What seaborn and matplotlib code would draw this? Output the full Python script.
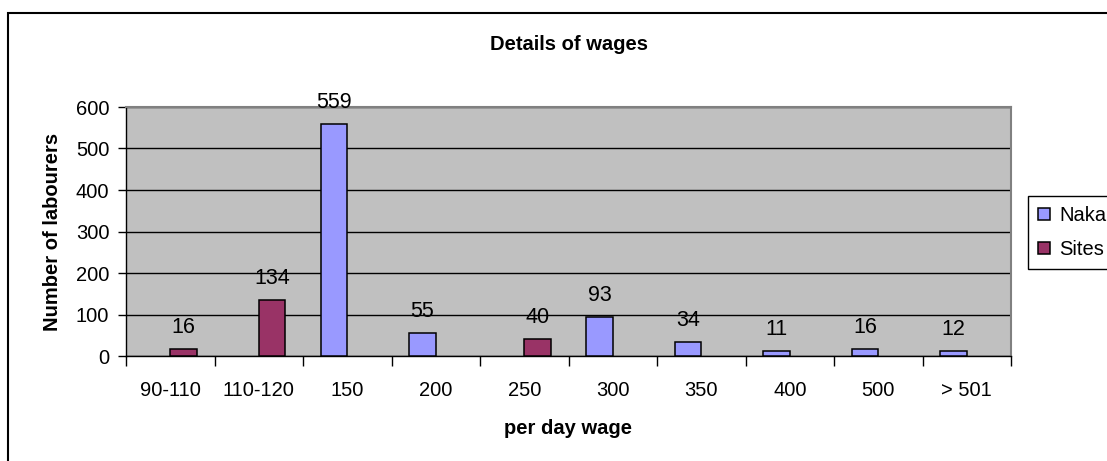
import numpy as np
import pandas as pd
import matplotlib
matplotlib.use("Agg")
import matplotlib.pyplot as plt
import matplotlib.patches as mpatches
import seaborn as sns

# data
categories = ['90-110', '110-120', '150', '200', '250', '300', '350', '400', '500', '> 501']
naka = [np.nan, np.nan, 559, 55, np.nan, 93, 34, 11, 16, 12]
sites = [16, 134, np.nan, np.nan, 40, np.nan, np.nan, np.nan, np.nan, np.nan]
series = ['Naka', 'Sites']
colors = {'Naka': '#9999FF', 'Sites': '#993366'}

df = pd.DataFrame({
    'wage': categories * 2,
    'series': ['Naka'] * len(categories) + ['Sites'] * len(categories),
    'count': naka + sites,
}).dropna()

sns.set_style('white')
plt.rcParams['font.family'] = ['Liberation Sans', 'DejaVu Sans']
plt.rcParams['text.color'] = 'black'
plt.rcParams['axes.labelcolor'] = 'black'
plt.rcParams['xtick.color'] = 'black'
plt.rcParams['ytick.color'] = 'black'

fig = plt.figure(figsize=(11.07, 4.61), dpi=100)
ax = fig.add_axes([126 / 1107, 1 - 356 / 461, (1011 - 126) / 1107, (356 - 107) / 461])

sns.barplot(data=df, x='wage', y='count', hue='series', order=categories,
            hue_order=series, palette=colors, saturation=1, width=0.6, dodge=True,
            edgecolor='black', linewidth=1.1, ax=ax, errorbar=None, zorder=3)

for c in ax.containers:
    ax.bar_label(c, fmt='%g', padding=8, fontsize=15.5)

ax.set_facecolor('#C0C0C0')
ax.set_ylim(0, 600)
ax.set_yticks(range(0, 601, 100))
ax.yaxis.grid(True, color='black', linewidth=1, zorder=0)
ax.set_axisbelow(True)
ax.set_xlim(-0.5, len(categories) - 0.5)

ax.set_xticks(np.arange(-0.5, len(categories), 1), minor=True)
ax.tick_params(axis='x', which='major', length=0, pad=18, labelsize=14.5)
ax.tick_params(axis='x', which='minor', direction='out', length=7, width=1, color='black', bottom=True)
ax.tick_params(axis='y', direction='out', length=6, width=1, color='black', pad=6, labelsize=14.5, left=True)

for s in ['left', 'bottom']:
    ax.spines[s].set_color('black')
    ax.spines[s].set_linewidth(1)
for s in ['top', 'right']:
    ax.spines[s].set_color('#808080')
    ax.spines[s].set_linewidth(1.5)

ax.set_xlabel('per day wage', fontsize=14.5, fontweight='bold', labelpad=14)
ax.set_ylabel('Number of labourers', fontsize=14.5, fontweight='bold', labelpad=10)
ax.set_title('Details of wages', fontsize=14.5, fontweight='bold', pad=41)

handles, labels = ax.get_legend_handles_labels()
ax.legend_.remove()
fig.legend(handles, labels, loc='upper left', bbox_to_anchor=(1028 / 1107, 1 - 196 / 461),
           frameon=True, fancybox=False, edgecolor='black', framealpha=1,
           fontsize=14.5, handlelength=0.6, handleheight=0.6, handletextpad=0.45,
           borderpad=0.5, labelspacing=0.75, borderaxespad=0)

# outer chart border (runs off the right and bottom edges)
fig.patches.append(mpatches.Rectangle((8 / 1107, -0.1), 2, 1 - 13 / 461 + 0.1,
                                      transform=fig.transFigure, fill=False,
                                      edgecolor='black', linewidth=1.5))

fig.savefig('out.png', dpi=100, facecolor='white')
